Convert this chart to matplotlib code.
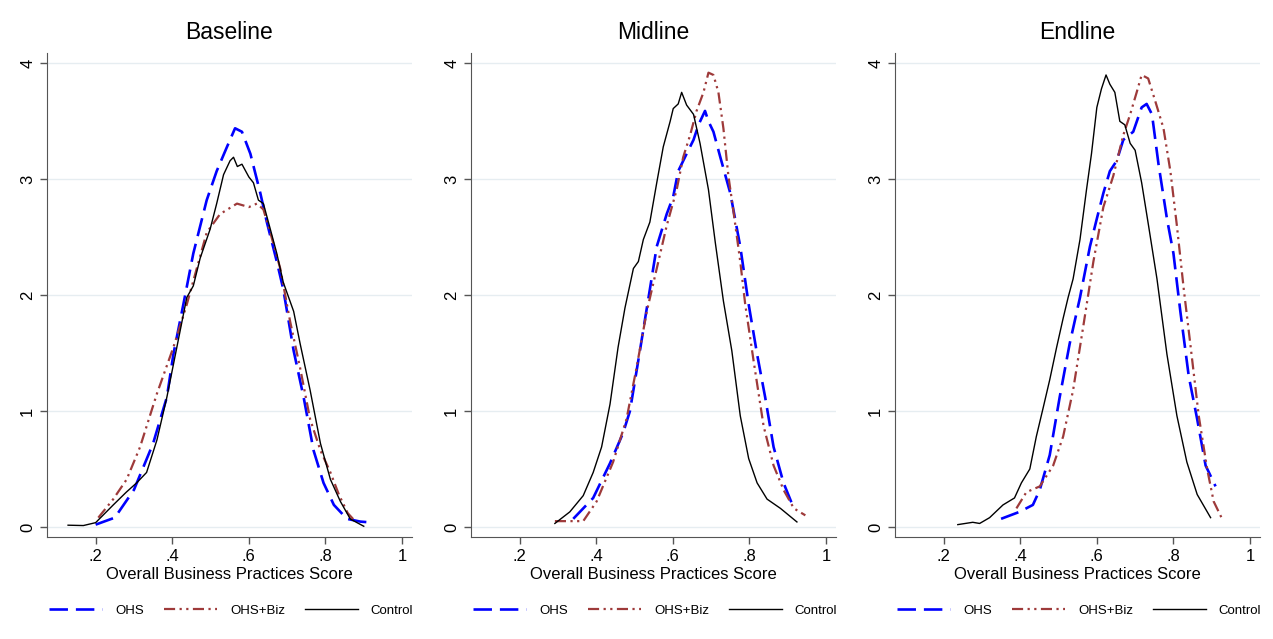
import numpy as np
import matplotlib.pyplot as plt

# Kernel density curves
panels = ["Baseline", "Midline", "Endline"]

# Baseline
base_ohs_x = [0.20, 0.25, 0.30, 0.35, 0.386, 0.403, 0.429, 0.455, 0.49, 0.516, 0.543, 0.564, 0.582, 0.604, 0.63, 0.647, 0.673, 0.69, 0.717, 0.743, 0.769, 0.795, 0.822, 0.856, 0.891, 0.926]
base_ohs_y = [0.02, 0.08, 0.32, 0.72, 1.12, 1.49, 1.92, 2.36, 2.82, 3.07, 3.28, 3.44, 3.41, 3.22, 2.88, 2.63, 2.29, 2.05, 1.52, 1.12, 0.66, 0.38, 0.19, 0.07, 0.046, 0.037]
base_biz_x = [0.207, 0.246, 0.281, 0.316, 0.36, 0.403, 0.438, 0.464, 0.49, 0.525, 0.569, 0.60, 0.621, 0.638, 0.656, 0.682, 0.708, 0.734, 0.76, 0.787, 0.813, 0.835, 0.858, 0.88]
base_biz_y = [0.08, 0.24, 0.41, 0.69, 1.15, 1.55, 1.92, 2.23, 2.54, 2.70, 2.79, 2.76, 2.79, 2.74, 2.54, 2.23, 1.77, 1.37, 0.93, 0.66, 0.47, 0.28, 0.12, 0.04]
base_ctl_x = [0.128, 0.168, 0.20, 0.246, 0.28, 0.307, 0.333, 0.36, 0.386, 0.412, 0.438, 0.455, 0.473, 0.499, 0.516, 0.534, 0.551, 0.56, 0.57, 0.582, 0.60, 0.612, 0.625, 0.638, 0.656, 0.673, 0.69, 0.717, 0.734, 0.76, 0.787, 0.813, 0.839, 0.865, 0.90]
base_ctl_y = [0.015, 0.012, 0.037, 0.19, 0.30, 0.38, 0.47, 0.75, 1.12, 1.55, 1.98, 2.08, 2.32, 2.57, 2.79, 3.04, 3.16, 3.19, 3.11, 3.13, 3.02, 2.97, 2.82, 2.79, 2.57, 2.36, 2.11, 1.86, 1.58, 1.18, 0.72, 0.41, 0.22, 0.068, 0.006]

# Midline
mid_ohs_x = [0.34, 0.392, 0.436, 0.47, 0.488, 0.514, 0.54, 0.558, 0.584, 0.601, 0.614, 0.636, 0.654, 0.667, 0.684, 0.693, 0.706, 0.724, 0.75, 0.776, 0.798, 0.82, 0.841, 0.863, 0.889, 0.916]
mid_ohs_y = [0.07, 0.25, 0.55, 0.81, 1.0, 1.52, 2.05, 2.42, 2.70, 2.85, 3.07, 3.22, 3.34, 3.47, 3.59, 3.50, 3.41, 3.19, 2.88, 2.42, 1.92, 1.49, 1.12, 0.69, 0.38, 0.16]
mid_biz_x = [0.292, 0.331, 0.366, 0.401, 0.444, 0.479, 0.505, 0.532, 0.558, 0.584, 0.61, 0.627, 0.645, 0.662, 0.68, 0.693, 0.706, 0.719, 0.732, 0.745, 0.758, 0.776, 0.789, 0.811, 0.837, 0.863, 0.889, 0.916, 0.946]
mid_biz_y = [0.05, 0.05, 0.05, 0.22, 0.56, 0.93, 1.37, 1.86, 2.23, 2.60, 2.91, 3.19, 3.38, 3.59, 3.75, 3.92, 3.90, 3.75, 3.44, 3.03, 2.73, 2.29, 1.92, 1.43, 0.87, 0.53, 0.32, 0.16, 0.10]
mid_ctl_x = [0.292, 0.331, 0.366, 0.392, 0.414, 0.436, 0.457, 0.475, 0.497, 0.51, 0.523, 0.54, 0.558, 0.575, 0.593, 0.601, 0.614, 0.623, 0.636, 0.654, 0.671, 0.693, 0.711, 0.732, 0.754, 0.776, 0.798, 0.82, 0.846, 0.881, 0.924]
mid_ctl_y = [0.03, 0.13, 0.27, 0.47, 0.69, 1.06, 1.55, 1.89, 2.23, 2.29, 2.48, 2.63, 2.97, 3.28, 3.50, 3.61, 3.65, 3.75, 3.64, 3.56, 3.31, 2.91, 2.45, 1.95, 1.52, 0.96, 0.59, 0.38, 0.24, 0.16, 0.043]

# Endline
end_ohs_x = [0.35, 0.398, 0.433, 0.451, 0.477, 0.503, 0.529, 0.556, 0.582, 0.60, 0.617, 0.634, 0.652, 0.669, 0.695, 0.717, 0.73, 0.744, 0.761, 0.783, 0.80, 0.818, 0.84, 0.862, 0.884, 0.91]
end_ohs_y = [0.07, 0.13, 0.19, 0.32, 0.62, 1.12, 1.58, 1.98, 2.42, 2.66, 2.88, 3.07, 3.16, 3.34, 3.41, 3.62, 3.65, 3.56, 3.13, 2.66, 2.36, 1.86, 1.30, 0.93, 0.53, 0.35]
end_biz_x = [0.39, 0.416, 0.451, 0.486, 0.512, 0.538, 0.565, 0.591, 0.617, 0.643, 0.669, 0.687, 0.704, 0.717, 0.734, 0.752, 0.774, 0.792, 0.809, 0.827, 0.844, 0.866, 0.888, 0.905, 0.927]
end_biz_y = [0.16, 0.30, 0.35, 0.53, 0.78, 1.18, 1.74, 2.29, 2.76, 3.03, 3.38, 3.56, 3.75, 3.90, 3.87, 3.68, 3.44, 3.07, 2.60, 2.05, 1.58, 0.96, 0.50, 0.22, 0.07]
end_ctl_x = [0.237, 0.276, 0.294, 0.32, 0.355, 0.385, 0.403, 0.425, 0.442, 0.46, 0.477, 0.495, 0.512, 0.525, 0.538, 0.556, 0.573, 0.586, 0.60, 0.612, 0.624, 0.634, 0.647, 0.66, 0.673, 0.687, 0.70, 0.717, 0.735, 0.757, 0.783, 0.809, 0.835, 0.862, 0.897]
end_ctl_y = [0.02, 0.04, 0.03, 0.08, 0.19, 0.25, 0.38, 0.50, 0.78, 1.03, 1.27, 1.55, 1.80, 1.98, 2.14, 2.48, 2.91, 3.22, 3.62, 3.78, 3.90, 3.82, 3.75, 3.50, 3.47, 3.31, 3.25, 2.97, 2.60, 2.14, 1.49, 0.96, 0.56, 0.28, 0.08]

data = [
    [(base_ohs_x, base_ohs_y), (base_biz_x, base_biz_y), (base_ctl_x, base_ctl_y)],
    [(mid_ohs_x, mid_ohs_y), (mid_biz_x, mid_biz_y), (mid_ctl_x, mid_ctl_y)],
    [(end_ohs_x, end_ohs_y), (end_biz_x, end_biz_y), (end_ctl_x, end_ctl_y)],
]

labels = ["OHS", "OHS+Biz", "Control"]
colors = ["#0000ff", "#9e3a3a", "#000000"]
widths = [1.9, 1.6, 1.0]
dashes = [(7, 3), (5, 2, 1, 2, 1, 2), ()]

xticks = [0.2, 0.4, 0.6, 0.8, 1.0]
xtick_labels = [".2", ".4", ".6", ".8", "1"]
yticks = [0, 1, 2, 3, 4]

plt.rcParams['font.family'] = ['Liberation Sans', 'DejaVu Sans']

fig = plt.figure(figsize=(12.73, 6.39), dpi=100)
lefts = [47 / 1273, 471 / 1273, 895 / 1273]
w = 365 / 1273
for i, left in enumerate(lefts):
    ax = fig.add_axes([left, 0.1596, w, 0.757])
    for grid_y in yticks:
        ax.axhline(grid_y, color="#e6edf1", lw=1, zorder=0)
    handles = []
    for (x, y), lab, c, lw, d in zip(data[i], labels, colors, widths, dashes):
        line, = ax.plot(x, y, color=c, lw=lw, label=lab)
        if d:
            line.set_dashes(d)
        handles.append(line)
    ax.set_xlim(0.073, 1.026)
    ax.set_ylim(-0.087, 4.087)
    ax.set_xticks(xticks)
    ax.set_xticklabels(xtick_labels, fontsize=12)
    ax.set_yticks(yticks)
    ax.set_yticklabels([str(t) for t in yticks], fontsize=12, rotation=90, va="center")
    ax.tick_params(direction="out", length=5, color="#555555", width=1)
    for s in ["top", "right"]:
        ax.spines[s].set_visible(False)
    for s in ["left", "bottom"]:
        ax.spines[s].set_color("#555555")
    ax.set_title(panels[i], fontsize=16.5, pad=10)
    ax.set_xlabel("Overall Business Practices Score", fontsize=12, labelpad=2)
    ax.legend(handles=handles, loc="upper center", bbox_to_anchor=(0.505, -0.115),
              ncol=3, frameon=False, fontsize=9.5, handlelength=4.0,
              columnspacing=1.5, handletextpad=1.0)

fig.savefig("out.png", dpi=100, facecolor="white")
